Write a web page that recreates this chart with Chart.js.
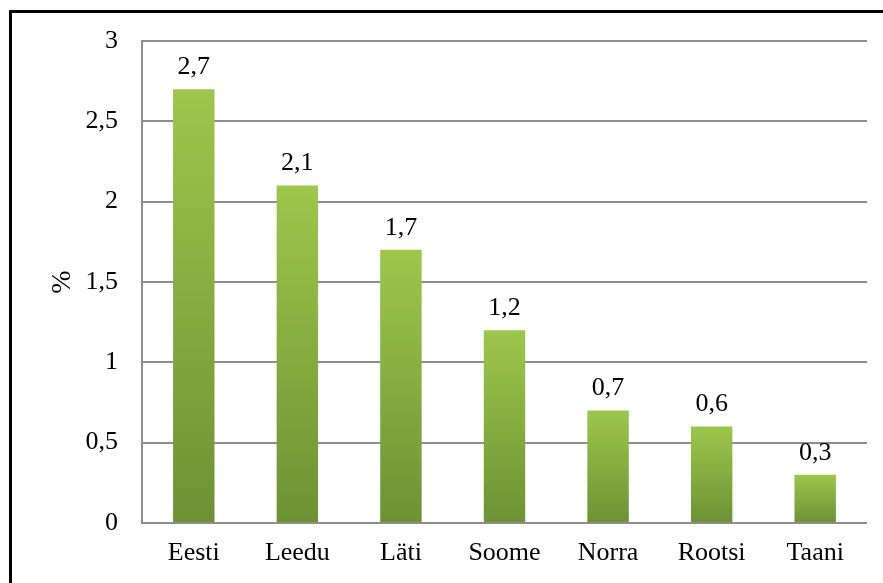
<!DOCTYPE html>
<html>
<head>
<meta charset="utf-8">
<script src="https://cdn.jsdelivr.net/npm/chart.js@4.4.0/dist/chart.umd.min.js"></script>
<style>
  html, body { margin: 0; padding: 0; background: #fff; overflow: hidden; }
  #wrap { position: relative; width: 883px; height: 583px; }
  #frame { position: absolute; left: 9px; top: 10px; width: 900px; height: 600px; border: 3px solid #000; box-sizing: border-box; pointer-events: none; }
  canvas { position: absolute; left: 0; top: 0; }
</style>
</head>
<body>
<div id="wrap">
  <canvas id="mycanvas" width="883" height="583"></canvas>
  <div id="frame"></div>
</div>
<script>
var countries = ['Eesti', 'Leedu', 'Läti', 'Soome', 'Norra', 'Rootsi', 'Taani'];
var values = [2.7, 2.1, 1.7, 1.2, 0.7, 0.6, 0.3];
var yTicks = [0, 0.5, 1, 1.5, 2, 2.5, 3];

var fontFam = '"Liberation Serif", "Times New Roman", serif';

function comma(v) {
	return String(v).replace('.', ',');
}

// gradient per bar, light on top, dark at the bottom
function barFill(ctx) {
	var chart = ctx.chart;
	var y = chart.scales.y;
	if (!y || ctx.dataIndex === undefined) return '#8cb542';
	var top = y.getPixelForValue(values[ctx.dataIndex]);
	var bottom = y.getPixelForValue(0);
	if (!isFinite(top) || !isFinite(bottom) || top === bottom) return '#8cb542';
	var g = chart.ctx.createLinearGradient(0, top, 0, bottom);
	g.addColorStop(0, '#9dc64b');
	g.addColorStop(1, '#6c9234');
	return g;
}

var valueLabels = {
	id: 'valueLabels',
	afterDatasetsDraw: function(chart) {
		var c = chart.ctx;
		var meta = chart.getDatasetMeta(0);
		c.save();
		c.font = '26px ' + fontFam;
		c.fillStyle = '#000';
		c.textAlign = 'center';
		c.textBaseline = 'bottom';
		meta.data.forEach(function(bar, i) {
			c.fillText(comma(values[i]), bar.x, bar.y - 9);
		});
		c.restore();
	}
};

var ctx = document.getElementById('mycanvas');

var barGraph = new Chart(ctx, {
	type: 'bar',
	data: {
		labels: countries,
		datasets: [{
			data: values,
			backgroundColor: barFill,
			borderWidth: 0,
			barPercentage: 0.4,
			categoryPercentage: 1
		}]
	},
	options: {
		responsive: false,
		animation: false,
		devicePixelRatio: 1,
		layout: { padding: { top: 41, right: 16, left: 0, bottom: 0 } },
		plugins: {
			legend: { display: false },
			tooltip: { enabled: false }
		},
		scales: {
			x: {
				grid: { display: false, drawTicks: false },
				border: { display: false },
				ticks: {
					color: '#000',
					font: { family: fontFam, size: 26 },
					padding: 15,
					maxRotation: 0
				},
				afterFit: function(s) { s.height = 60; }
			},
			y: {
				min: 0,
				max: 3,
				afterBuildTicks: function(s) {
					s.ticks = yTicks.map(function(v) { return { value: v }; });
				},
				grid: { color: '#8e8e8e', lineWidth: 2, drawTicks: false },
				border: { display: true, color: '#8e8e8e', width: 2 },
				ticks: {
					color: '#000',
					font: { family: fontFam, size: 26 },
					padding: 24,
					callback: function(v) { return comma(v); }
				},
				title: {
					display: true,
					text: '%',
					color: '#000',
					font: { family: fontFam, size: 28 },
					padding: { top: 46, bottom: 0 }
				},
				afterFit: function(s) { s.width = 142; }
			}
		}
	},
	plugins: [valueLabels]
});
</script>
</body>
</html>
